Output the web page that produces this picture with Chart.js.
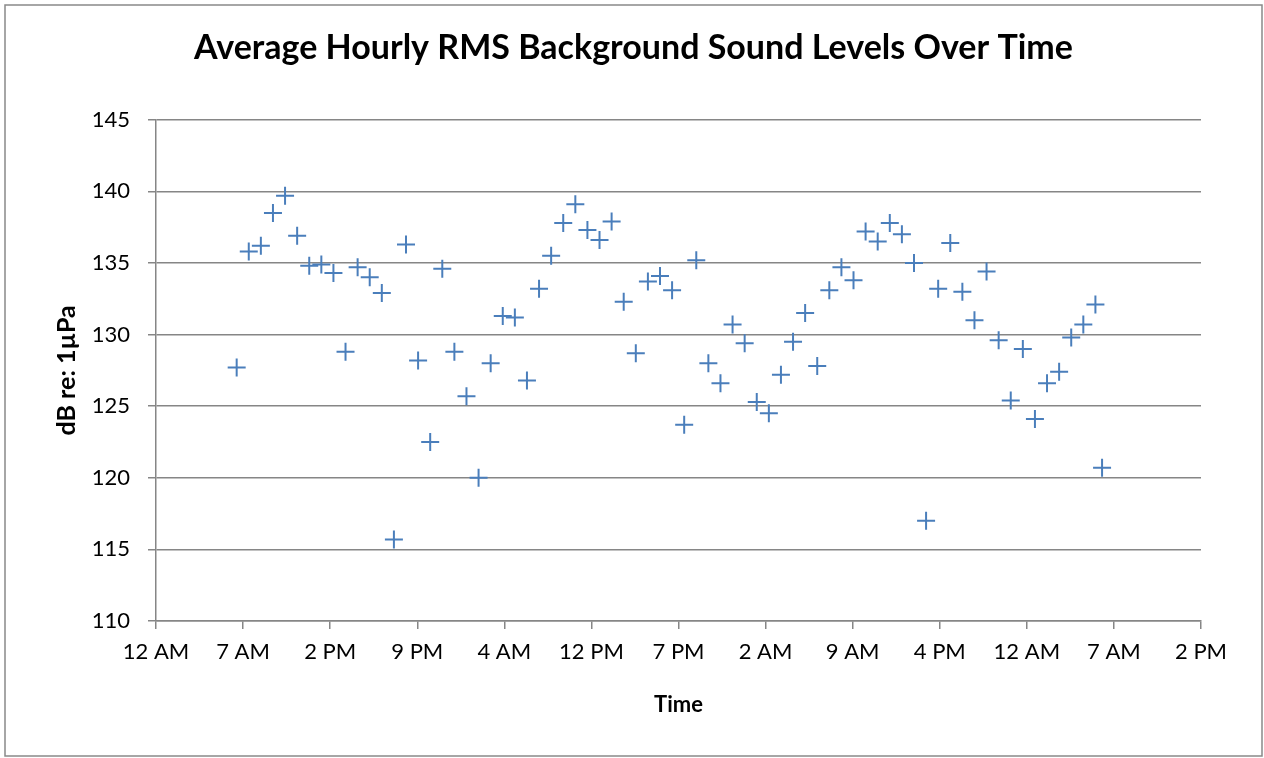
<!DOCTYPE html>
<html>
<head>
<meta charset="utf-8">
<script src="https://cdn.jsdelivr.net/npm/chart.js@4.4.1/dist/chart.umd.min.js"></script>
<style>
  html, body { margin: 0; padding: 0; background: #fff; }
  #wrap { width: 1264px; height: 758px; }
</style>
</head>
<body>
<div id="wrap"><canvas id="soundChart" width="1264" height="758"></canvas></div>
<script>
// hours since midnight of the first day (one reading per hour)
const hours = [
    6.67, 7.67, 8.67, 9.67, 10.67, 11.67, 12.67, 13.67, 14.67, 15.67,
    16.67, 17.67, 18.67, 19.67, 20.67, 21.67, 22.67, 23.67, 24.67, 25.67,
    26.67, 27.67, 28.67, 29.67, 30.67, 31.67, 32.67, 33.67, 34.67, 35.67,
    36.67, 37.67, 38.67, 39.67, 40.67, 41.67, 42.67, 43.67, 44.67, 45.67,
    46.67, 47.67, 48.67, 49.67, 50.67, 51.67, 52.67, 53.67, 54.67, 55.67,
    56.67, 57.67, 58.67, 59.67, 60.67, 61.67, 62.67, 63.67, 64.67, 65.67,
    66.67, 67.67, 68.67, 69.67, 70.67, 71.67, 72.67, 73.67, 74.67, 75.67,
    76.67, 77.67, 78.22
];

// average RMS level, dB re: 1uPa
const dbLevels = [
    127.7, 135.8, 136.2, 138.5, 139.7, 136.9, 134.8, 134.9, 134.3, 128.8,
    134.7, 134.0, 132.9, 115.7, 136.3, 128.2, 122.5, 134.6, 128.8, 125.7,
    120.0, 128.0, 131.3, 131.2, 126.8, 133.2, 135.5, 137.8, 139.1, 137.3,
    136.6, 137.9, 132.3, 128.7, 133.7, 134.1, 133.1, 123.7, 135.2, 128.0,
    126.6, 130.7, 129.4, 125.3, 124.5, 127.2, 129.5, 131.5, 127.8, 133.1,
    134.7, 133.8, 137.2, 136.5, 137.8, 137.0, 135.0, 117.0, 133.2, 136.4,
    133.0, 131.0, 134.4, 129.6, 125.4, 129.0, 124.1, 126.6, 127.4, 129.8,
    130.7, 132.1, 120.7
];

const timeTicks = ['12 AM', '7 AM', '2 PM', '9 PM', '4 AM', '12 PM', '7 PM',
    '2 AM', '9 AM', '4 PM', '12 AM', '7 AM', '2 PM'];

const yMin = 110;
const yMax = 145;
const yStep = 5;
const xMax = 86.4;   // hours shown on the axis
const xStep = 7.2;

const gridColor = '#868686';
const fontName = 'Lato, "Open Sans", sans-serif';

// outer frame round the whole chart
const chartFrame = {
    id: 'chartFrame',
    beforeDraw(chart) {
        const ctx = chart.ctx;
        ctx.save();
        ctx.fillStyle = '#fff';
        ctx.fillRect(0, 0, chart.width, chart.height);
        ctx.strokeStyle = '#898989';
        ctx.lineWidth = 1.5;
        ctx.strokeRect(5, 5, 1257, 751);
        ctx.restore();
    }
};

const ctx = document.getElementById('soundChart').getContext('2d');
const soundChart = new Chart(ctx, {
    type: 'scatter',
    data: {
        datasets: [{
            label: 'RMS level',
            data: hours.map((h, i) => ({ x: h, y: dbLevels[i] })),
            pointStyle: 'cross',
            pointRadius: 9,
            pointBorderWidth: 2,
            borderColor: '#4a7ebb',
            backgroundColor: '#4a7ebb',
            showLine: false
        }]
    },
    options: {
        responsive: false,
        animation: false,
        // left/right padding kept nearly equal so the title sits centred
        layout: { padding: { top: 5, left: 66, right: 63, bottom: 0 } },
        plugins: {
            legend: { display: false },
            tooltip: { enabled: false },
            title: {
                display: true,
                text: 'Average Hourly RMS Background Sound Levels Over Time',
                color: '#000',
                font: { family: fontName, size: 34, weight: 'bold' },
                padding: { top: 23, bottom: 51 }
            }
        },
        scales: {
            x: {
                type: 'linear',
                min: 0,
                max: xMax,
                afterFit: (scale) => { scale.height = 137; },
                ticks: {
                    stepSize: xStep,
                    autoSkip: false,
                    maxRotation: 0,
                    color: '#000',
                    padding: 10,
                    font: { family: fontName, size: 22 },
                    callback: (value, index) => timeTicks[index]
                },
                grid: {
                    drawOnChartArea: false,
                    color: gridColor,
                    lineWidth: 1.5,
                    tickLength: 8
                },
                border: { color: gridColor, width: 1.5 },
                title: {
                    display: true,
                    text: 'Time',
                    color: '#000',
                    font: { family: fontName, size: 22, weight: 'bold' },
                    padding: { top: 0, bottom: 40 }
                }
            },
            y: {
                min: yMin,
                max: yMax,
                afterFit: (scale) => { scale.width = 90; },
                ticks: {
                    stepSize: yStep,
                    color: '#000',
                    padding: 18,
                    font: { family: fontName, size: 22 }
                },
                grid: {
                    color: gridColor,
                    lineWidth: 1.5,
                    tickLength: 8
                },
                border: { color: gridColor, width: 1.5 },
                title: {
                    display: true,
                    text: 'dB re: 1µPa',
                    color: '#000',
                    font: { family: fontName, size: 25, weight: 'bold' },
                    // pulls the title out past the padded edge
                    padding: { top: -14, bottom: 0 }
                }
            }
        }
    },
    plugins: [chartFrame]
});
</script>
</body>
</html>
